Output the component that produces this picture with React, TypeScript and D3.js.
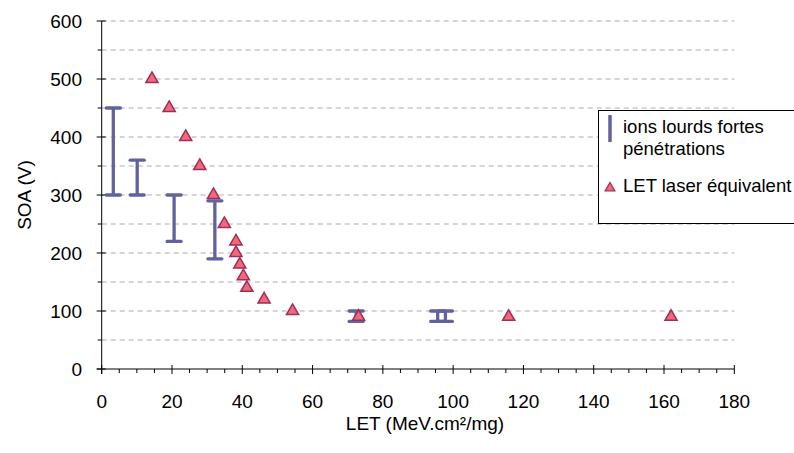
import React from "react";
import * as d3 from "d3";

const laserLET = [14.3, 19.2, 23.9, 27.9, 31.8, 34.9, 38.2, 38.2, 39.3, 40.3, 41.3, 46.2, 54.3, 73.1, 115.8, 162];
const laserSOA = [500, 450, 400, 350, 300, 250, 220, 200, 180, 160, 140, 120, 100, 90, 90, 90];

const ionLET = [3.3, 10.1, 20.6, 32.2, 72.4, 95.6, 97.8];
const ionLow = [300, 300, 220, 190, 82, 82, 82];
const ionHigh = [450, 360, 300, 290, 100, 100, 100];

const xTicks = [0, 20, 40, 60, 80, 100, 120, 140, 160, 180];
const yTicks = [0, 100, 200, 300, 400, 500, 600];

const seriesNames = ["ions lourds fortes", "pénétrations", "LET laser équivalent"];
const xTitle = "LET (MeV.cm²/mg)";
const yTitle = "SOA (V)";

const W = 794;
const H = 453;
const FONT = "'Liberation Sans', Arial, sans-serif";
const BAR = "#62629e";
const TRI_FILL = "#f4687a";
const TRI_STROKE = "#9c2f5c";

export default function App() {
  const x = d3.scaleLinear().domain([0, 180]).range([101.7, 734.3]);
  const y = d3.scaleLinear().domain([0, 600]).range([369, 21]);
  const tri = d3.symbol().type(d3.symbolTriangle).size(64)();
  const triSmall = d3.symbol().type(d3.symbolTriangle).size(40)();
  const minorX = d3.range(0, 181, 5).filter((v) => v % 20 !== 0);
  const minorY = d3.range(0, 601, 50).filter((v) => v % 100 !== 0);
  const grid = d3.range(50, 601, 50);
  const x0 = x(0);
  const y0 = y(0);
  const cap = 7;

  return (
    <svg width={W} height={H} style={{ position: "absolute", left: 0, top: 0, background: "#fff" }} fontFamily={FONT}>
      {grid.map((v) => (
        <line key={"g" + v} x1={x0} x2={x(180)} y1={y(v)} y2={y(v)} stroke="#ababab" strokeWidth={1} strokeDasharray="5,4" />
      ))}
      {/* axes */}
      <line x1={x0} x2={x0} y1={y(600)} y2={y0 + 5} stroke="#000" strokeWidth={1} />
      <line x1={x0 - 5} x2={x(180)} y1={y0} y2={y0} stroke="#000" strokeWidth={1} />
      {yTicks.map((v) => (
        <g key={"yt" + v}>
          <line x1={x0 - 5} x2={x0 + 4} y1={y(v)} y2={y(v)} stroke="#000" />
          <text x={82} y={y(v)} dy="0.35em" textAnchor="end" fontSize={19} fill="#000">{v}</text>
        </g>
      ))}
      {minorY.map((v) => (
        <line key={"my" + v} x1={x0 - 4} x2={x0} y1={y(v)} y2={y(v)} stroke="#000" />
      ))}
      {xTicks.map((v) => (
        <g key={"xt" + v}>
          <line x1={x(v)} x2={x(v)} y1={y0 - 4} y2={y0 + 5} stroke="#000" />
          <text x={x(v)} y={407.5} textAnchor="middle" fontSize={19} fill="#000">{v}</text>
        </g>
      ))}
      {minorX.map((v) => (
        <line key={"mx" + v} x1={x(v)} x2={x(v)} y1={y0} y2={y0 + 4} stroke="#000" />
      ))}
      <text x={425} y={430} textAnchor="middle" fontSize={19} fill="#000">{xTitle}</text>
      <text transform={`translate(31,${(y(0) + y(600)) / 2}) rotate(-90)`} textAnchor="middle" fontSize={19} fill="#000">{yTitle}</text>

      {/* ion bars */}
      {ionLET.map((v, i) => (
        <g key={"ion" + i} stroke={BAR} strokeWidth={3.3} fill="none">
          <line x1={x(v)} x2={x(v)} y1={y(ionHigh[i])} y2={y(ionLow[i])} />
          <line x1={x(v) - cap} x2={x(v) + cap} y1={y(ionHigh[i])} y2={y(ionHigh[i])} strokeLinecap="round" />
          <line x1={x(v) - cap} x2={x(v) + cap} y1={y(ionLow[i])} y2={y(ionLow[i])} strokeLinecap="round" />
        </g>
      ))}
      {/* laser triangles */}
      {laserLET.map((v, i) => (
        <path key={"tri" + i} d={tri} transform={`translate(${x(v)},${y(laserSOA[i])})`} fill={TRI_FILL} stroke={TRI_STROKE} strokeWidth={1.5} />
      ))}

      {/* legend */}
      <rect x={598.5} y={110.5} width={220} height={113} fill="#fff" stroke="#000" strokeWidth={1} />
      <line x1={610} x2={610} y1={115} y2={142} stroke={BAR} strokeWidth={3.5} />
      <text x={623} y={133} fontSize={18.5} fill="#000">{seriesNames[0]}</text>
      <text x={623} y={155} fontSize={18.5} fill="#000">{seriesNames[1]}</text>
      <path d={triSmall} transform="translate(610,188)" fill={TRI_FILL} stroke={TRI_STROKE} strokeWidth={1.3} />
      <text x={623} y={192} fontSize={18.5} fill="#000">{seriesNames[2]}</text>
    </svg>
  );
}
